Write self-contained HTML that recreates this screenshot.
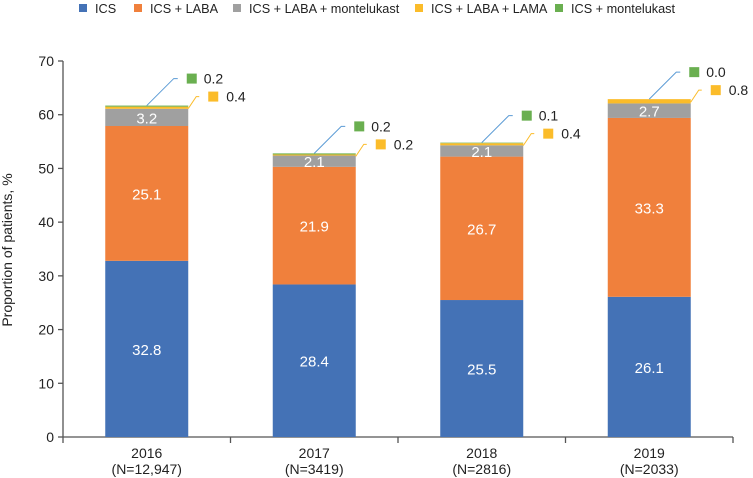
<!DOCTYPE html>
<html><head><meta charset="utf-8"><style>
html,body{margin:0;padding:0;background:#fff;}
svg{display:block;font-family:"Liberation Sans",Arial,sans-serif;}
</style></head><body>
<svg id="chart" width="753" height="478" viewBox="0 0 753 478">
<g id="legend"></g>
<g id="axes"></g>
<g id="bars"></g>
<g id="callouts"></g>
</svg>
<script>
const categories = ["2016", "2017", "2018", "2019"];
const nLabels = ["(N=12,947)", "(N=3419)", "(N=2816)", "(N=2033)"];
const seriesNames = ["ICS", "ICS + LABA", "ICS + LABA + montelukast", "ICS + LABA + LAMA", "ICS + montelukast"];
const icsValues = [32.8, 28.4, 25.5, 26.1];
const icsLabaValues = [25.1, 21.9, 26.7, 33.3];
const montelukastValues = [3.2, 2.1, 2.1, 2.7];
const lamaValues = [0.4, 0.2, 0.4, 0.8];
const icsMontValues = [0.2, 0.2, 0.1, 0.0];
const yTicks = [0, 10, 20, 30, 40, 50, 60, 70];
const colors = ["#4472b6", "#f0803c", "#a0a0a0", "#fbbc2a", "#6aaf50"];

const NS = "http://www.w3.org/2000/svg";
const X0 = 63, X1 = 733, Y0 = 437, Y70 = 61;
const bandW = (X1 - X0) / categories.length;
const xCenter = i => X0 + bandW * (i + 0.5);
const yScale = v => Y0 - (v / 70) * (Y0 - Y70);
function mk(tag, attrs, parent, text) {
  const e = document.createElementNS(NS, tag);
  for (const k in attrs) e.setAttribute(k, attrs[k]);
  if (text !== undefined) e.textContent = text;
  parent.appendChild(e);
  return e;
}
const legend = document.getElementById("legend");
const axes = document.getElementById("axes");
const bars = document.getElementById("bars");
const callouts = document.getElementById("callouts");

// legend
const legX = [79, 134, 233, 415, 555];
seriesNames.forEach((n, i) => {
  const sq = mk("rect", {x: legX[i], y: 4, width: 8, height: 8, fill: colors[i]}, legend);
  
  
  const t = mk("text", {x: legX[i] + 16, y: 13, "font-size": 12.7, fill: "#222"}, legend, n);
  
  
});

// axes
const yAxis = mk("line", {x1: X0, y1: Y70, x2: X0, y2: Y0, stroke: "#555", "stroke-width": 1.3}, axes);


const xAxis = mk("line", {x1: X0, y1: Y0, x2: X1, y2: Y0, stroke: "#555", "stroke-width": 1.3}, axes);


yTicks.forEach(v => {
  const y = yScale(v);
  mk("line", {x1: X0 - 5, y1: y, x2: X0, y2: y, stroke: "#555", "stroke-width": 1.3}, axes);
  const t = mk("text", {x: X0 - 9, y: y + 5, "font-size": 14, fill: "#222", "text-anchor": "end"}, axes, String(v));
  
  
});
for (let i = 0; i <= categories.length; i++) {
  const x = X0 + bandW * i;
  mk("line", {x1: x, y1: Y0, x2: x, y2: Y0 + 6, stroke: "#555", "stroke-width": 1.3}, axes);
}
categories.forEach((c, i) => {
  const t = mk("text", {x: xCenter(i), y: 458, "font-size": 14, fill: "#222", "text-anchor": "middle"}, axes, c);
  
  
  const n = mk("text", {x: xCenter(i), y: 474, "font-size": 14, fill: "#222", "text-anchor": "middle"}, axes, nLabels[i]);
  
  
});
const yt = mk("text", {x: 0, y: 0, "font-size": 14, fill: "#222", "text-anchor": "middle", transform: "translate(12,250) rotate(-90)"}, axes, "Proportion of patients, %");



// bars
const series = [icsValues, icsLabaValues, montelukastValues, lamaValues, icsMontValues];
const barW = 83;
categories.forEach((c, i) => {
  let cum = 0;
  const x = xCenter(i) - barW / 2;
  series.forEach((arr, s) => {
    const v = arr[i];
    const yTop = yScale(cum + v), yBot = yScale(cum);
    const r = mk("rect", {x: x, y: yTop, width: barW, height: Math.max(yBot - yTop, 0), fill: colors[s]}, bars);
    
    
    if (s < 3) {
      const t = mk("text", {x: xCenter(i), y: (yTop + yBot) / 2 + 6, "font-size": 15, fill: "#fff", "text-anchor": "middle"}, bars, v.toFixed(1));
      
      
    }
    cum += v;
  });
  // callouts
  const top = yScale(cum);
  const cx = xCenter(i), right = x + barW;
  const gy = top - 27, yy = top - 9;
  mk("polyline", {points: `${cx},${top} ${cx + 27},${gy} ${cx + 31},${gy}`, fill: "none", stroke: "#5b9bd5", "stroke-width": 1}, callouts);
  const gs = mk("rect", {x: cx + 40, y: gy - 5, width: 10, height: 10, fill: colors[4]}, callouts);
  
  
  const gt = mk("text", {x: cx + 57, y: gy + 5, "font-size": 14, fill: "#222"}, callouts, icsMontValues[i].toFixed(1));
  
  
  mk("polyline", {points: `${right},${top + 3} ${right + 8},${yy} ${right + 11},${yy}`, fill: "none", stroke: colors[3], "stroke-width": 1}, callouts);
  const ys = mk("rect", {x: right + 20, y: yy - 5, width: 10, height: 10, fill: colors[3]}, callouts);
  
  
  const ytx = mk("text", {x: right + 38, y: yy + 5, "font-size": 14, fill: "#222"}, callouts, lamaValues[i].toFixed(1));
  
  
});
</script>
</body></html>
